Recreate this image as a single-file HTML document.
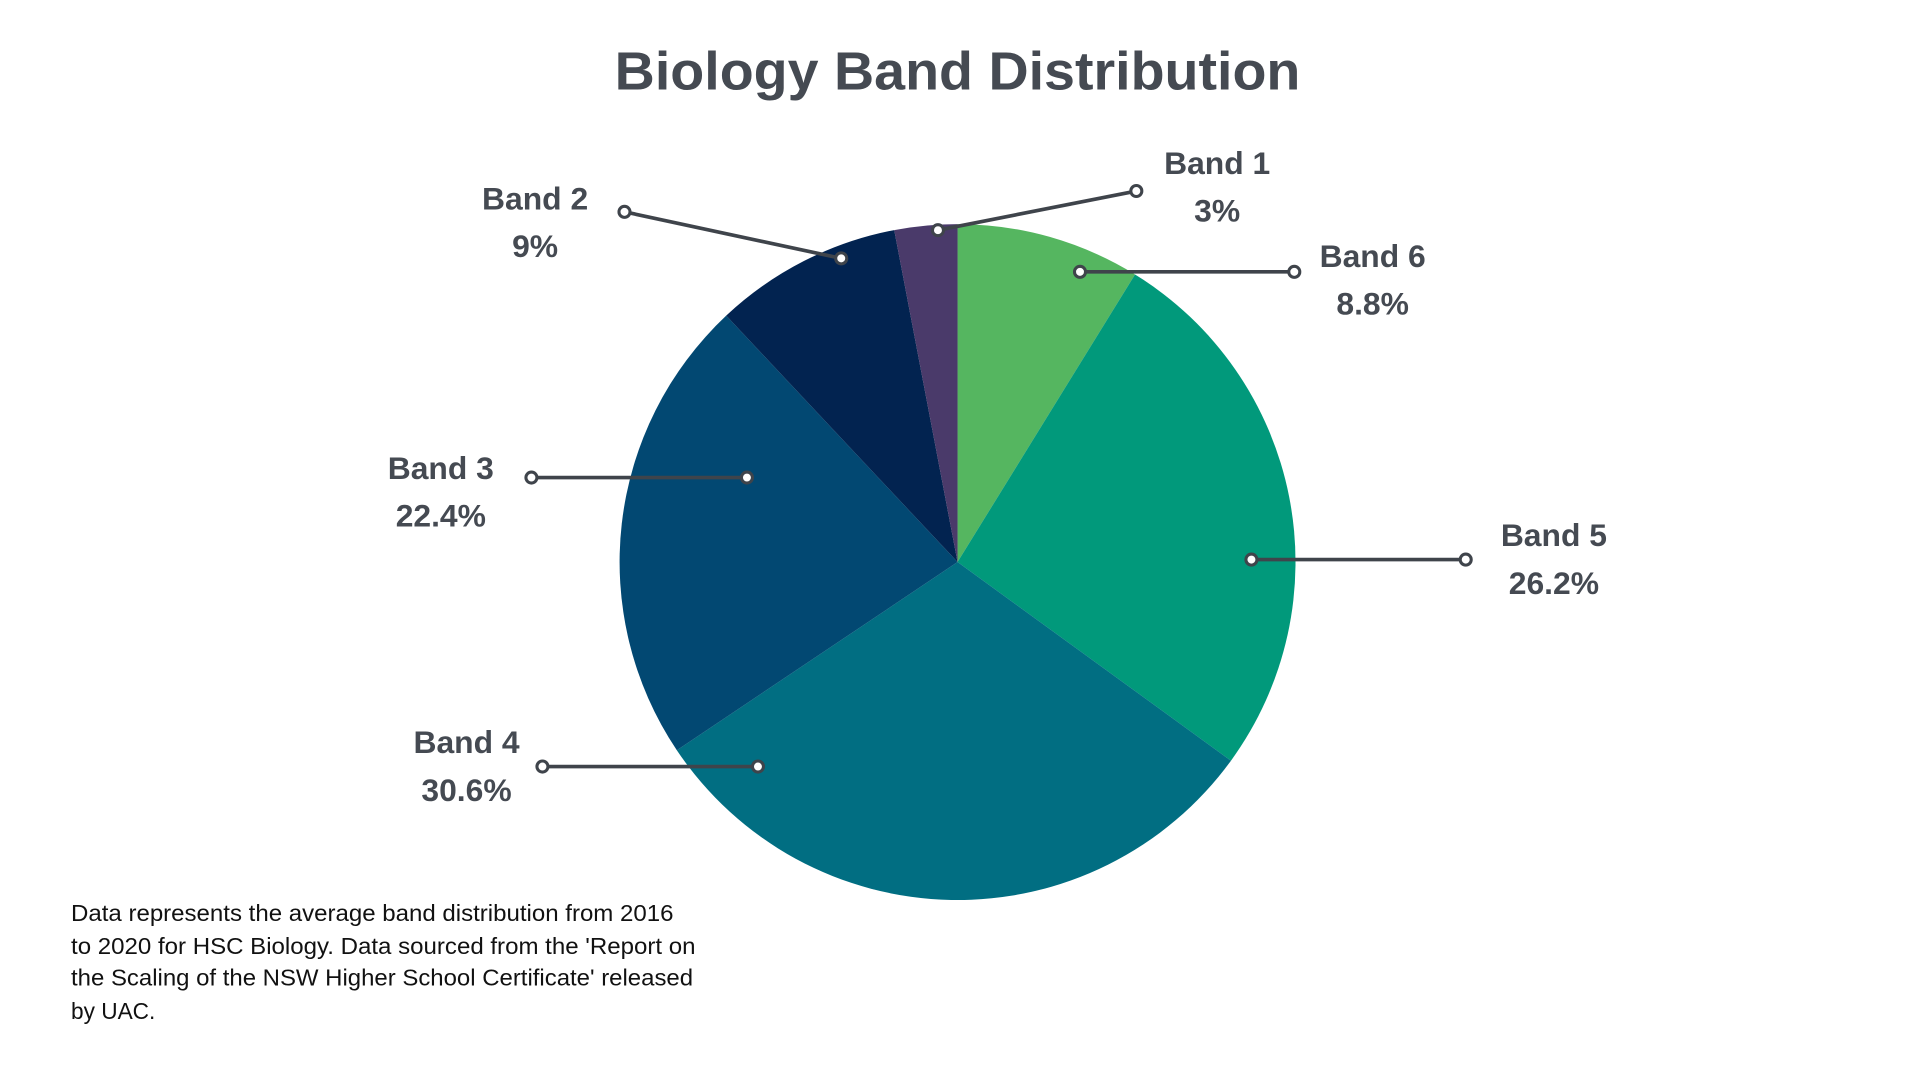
<!DOCTYPE html>
<html><head><meta charset="utf-8"><style>
html,body{margin:0;padding:0;background:#fff;}
svg{display:block;}
text{font-family:"Liberation Sans",sans-serif;}
</style></head><body>
<svg id="chart" width="1920" height="1080" viewBox="0 0 1568 882" xmlns="http://www.w3.org/2000/svg">
<text x="782" y="73" text-anchor="middle" font-size="44" font-weight="bold" fill="#454a52" textLength="560" lengthAdjust="spacingAndGlyphs">Biology Band Distribution</text>
<g id="slices"></g>
<g id="labels"></g>
<g font-size="18.5" fill="#111">
<text x="58" y="752" textLength="492" lengthAdjust="spacingAndGlyphs">Data represents the average band distribution from 2016</text>
<text x="58" y="779" textLength="510" lengthAdjust="spacingAndGlyphs">to 2020 for HSC Biology. Data sourced from the 'Report on</text>
<text x="58" y="805" textLength="508" lengthAdjust="spacingAndGlyphs">the Scaling of the NSW Higher School Certificate' released</text>
<text x="58" y="832">by UAC.</text>
</g>
</svg>
<script>
// data in clockwise order from 12 o'clock
const categories = ["Band 6","Band 5","Band 4","Band 3","Band 2","Band 1"];
const values = [8.8, 26.2, 30.6, 22.4, 9, 3];
const labels = ["8.8%","26.2%","30.6%","22.4%","9%","3%"];
const colors = ["#55b660","#01997b","#016e82","#024872","#022350","#4a3a6a"];
// layout (label text centre, leader outer point, leader inner point)
const labelLayout = [
  {tx:1121,ty:209,ox:1057,oy:222,ix:882,iy:222},
  {tx:1269,ty:437,ox:1197,oy:457,ix:1022,iy:457},
  {tx:381,ty:606,ox:443,oy:626,ix:619,iy:626},
  {tx:360,ty:382,ox:434,oy:390,ix:610,iy:390},
  {tx:437,ty:162,ox:510,oy:173,ix:687,iy:211},
  {tx:994,ty:133,ox:928,oy:156,ix:766,iy:188}
];
const NS="http://www.w3.org/2000/svg";
const cx=782, cy=459, r=276;
const total=values.reduce((a,b)=>a+b,0);
function pt(a,rad){return [cx+rad*Math.sin(a), cy-rad*Math.cos(a)];}
const gs=document.getElementById('slices'), gl=document.getElementById('labels');
let acc=0;
values.forEach((v,i)=>{
  const a0=acc/total*2*Math.PI; acc+=v; const a1=acc/total*2*Math.PI;
  const p0=pt(a0,r), p1=pt(a1,r);
  const large=(a1-a0)>Math.PI?1:0;
  const p=document.createElementNS(NS,'path');
  p.setAttribute('d',`M${cx},${cy} L${p0[0]},${p0[1]} A${r},${r} 0 ${large} 1 ${p1[0]},${p1[1]} Z`);
  p.setAttribute('fill',colors[i]);
  
  
  gs.appendChild(p);
  const L=labelLayout[i];
  const g=document.createElementNS(NS,'g');
  
  
  const ln=document.createElementNS(NS,'line');
  ln.setAttribute('x1',L.ox);ln.setAttribute('y1',L.oy);ln.setAttribute('x2',L.ix);ln.setAttribute('y2',L.iy);
  ln.setAttribute('stroke','#3f444b');ln.setAttribute('stroke-width','3');
  g.appendChild(ln);
  [[L.ox,L.oy],[L.ix,L.iy]].forEach(c=>{
    const ci=document.createElementNS(NS,'circle');
    ci.setAttribute('cx',c[0]);ci.setAttribute('cy',c[1]);ci.setAttribute('r','4.5');
    ci.setAttribute('fill','#fff');ci.setAttribute('stroke','#3f444b');ci.setAttribute('stroke-width','2.5');
    g.appendChild(ci);
  });
  const t1=document.createElementNS(NS,'text');
  t1.setAttribute('x',L.tx);t1.setAttribute('y',L.ty+9);t1.setAttribute('text-anchor','middle');
  t1.setAttribute('font-size','26');t1.setAttribute('font-weight','bold');t1.setAttribute('fill','#454a52');
  t1.textContent=categories[i];
  const t2=document.createElementNS(NS,'text');
  t2.setAttribute('x',L.tx);t2.setAttribute('y',L.ty+48);t2.setAttribute('text-anchor','middle');
  t2.setAttribute('font-size','26');t2.setAttribute('font-weight','bold');t2.setAttribute('fill','#454a52');
  t2.textContent=labels[i];
  g.appendChild(t1);g.appendChild(t2);
  gl.appendChild(g);
});
</script>
</body></html>
